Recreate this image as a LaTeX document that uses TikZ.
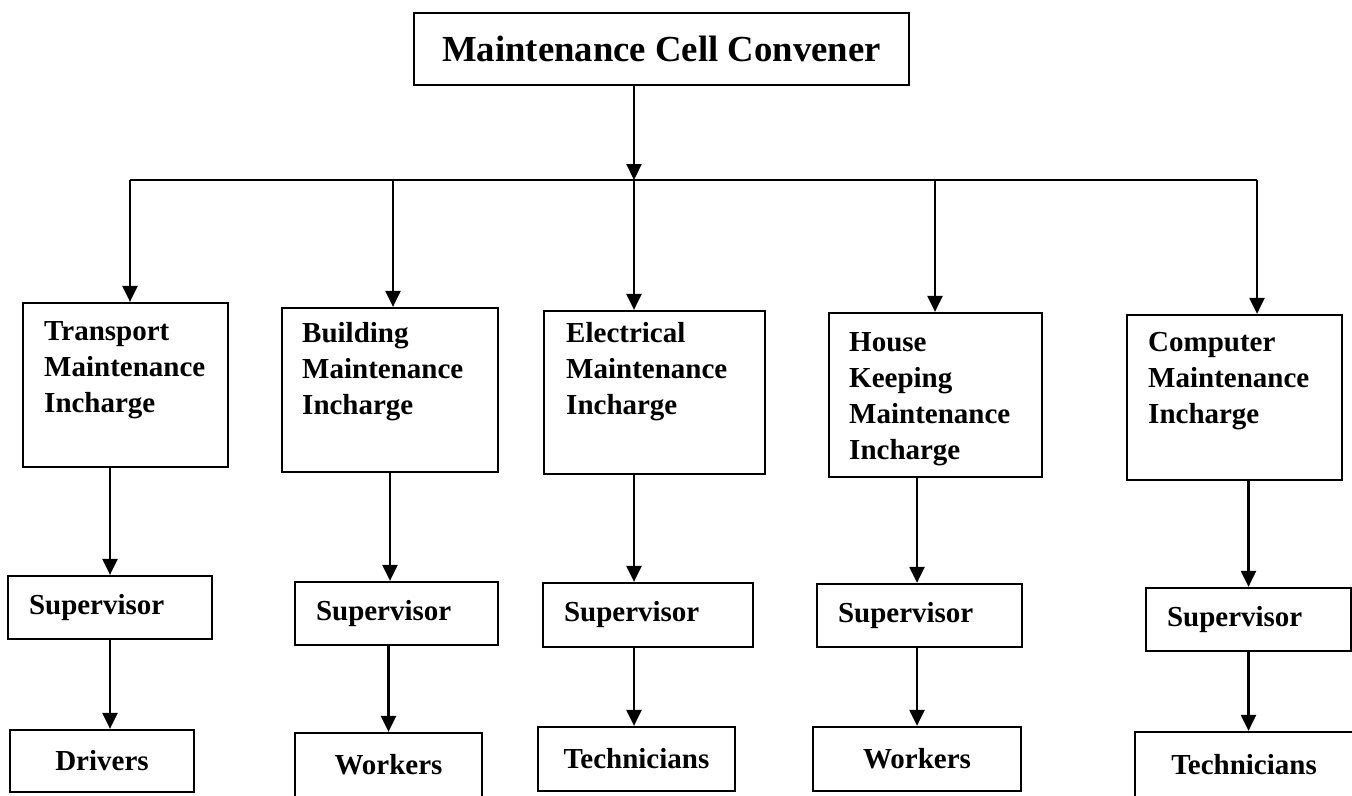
\documentclass[tikz,border=0pt]{standalone}
\usepackage{fontspec}
\setmainfont{Liberation Serif}
\usepackage{tikz}
\usetikzlibrary{arrows.meta, positioning}

\newcommand\cellfont{\fontsize{16.5}{20.5}\selectfont\bfseries}
\newcommand\convenerfont{\fontsize{20.9}{25}\selectfont\bfseries}

\begin{document}
\begin{tikzpicture}[
        x=0.02cm, y=-0.02cm,
        box/.style={draw, line width=1.3pt, inner sep=0pt},
        convenerbox/.style={box, font=\convenerfont, minimum width=9.9cm, minimum height=1.44cm},
        inchargebox/.style={box, minimum height=3.28cm},
        inchargetext/.style={inner sep=0pt, align=left, font=\cellfont},
        supbox/.style={box, font=\cellfont, minimum height=1.26cm, inner xsep=0.42cm, align=left},
        staffbox/.style={box, font=\cellfont, minimum height=1.26cm},
        link/.style={line width=1.3pt},
        flow/.style={-{Triangle[length=0.32cm, width=0.3cm]}, line width=1.3pt}
    ]
    \useasboundingbox (0,0) rectangle (1352,795);

    % Convener
    \node[convenerbox] (convener) at (661.5,49) {Maintenance Cell Convener};

    % Incharges
    \node[inchargebox, minimum width=4.1cm] (transport) at (125.5,385) {};
    \node[inchargebox, minimum width=4.32cm] (building) at (390,390) {};
    \node[inchargebox, minimum width=4.42cm, minimum height=3.26cm] (electrical) at (654.5,392.5) {};
    \node[inchargebox, minimum width=4.26cm] (house) at (935.5,395) {};
    \node[inchargebox, minimum width=4.3cm, minimum height=3.3cm] (computer) at (1234.5,397.5) {};

    \node[inchargetext, below right=0.38cm and 0.44cm of transport.north west] (transportText) {Transport\\Maintenance\\Incharge};
    \node[inchargetext, below right=0.3cm and 0.42cm of building.north west] (buildingText) {Building\\Maintenance\\Incharge};
    \node[inchargetext, below right=0.24cm and 0.46cm of electrical.north west] (electricalText) {Electrical\\Maintenance\\Incharge};
    \node[inchargetext, below right=0.4cm and 0.42cm of house.north west] (houseText) {House\\Keeping\\Maintenance\\Incharge};
    \node[inchargetext, below right=0.36cm and 0.44cm of computer.north west] (computerText) {Computer\\Maintenance\\Incharge};

    % Supervisors
    \node[supbox, text width=3.24cm] (sup1) at (110,607.5) {Supervisor};
    \node[supbox, text width=3.22cm] (sup2) at (396.5,613.5) {Supervisor};
    \node[supbox, text width=3.36cm, minimum height=1.28cm] (sup3) at (648,615) {Supervisor};
    \node[supbox, text width=3.26cm] (sup4) at (919.5,615.5) {Supervisor};
    \node[supbox, text width=3.26cm] (sup5) at (1248.5,619.5) {Supervisor};

    % Staff
    \node[staffbox, minimum width=3.68cm, minimum height=1.24cm] (drivers) at (102,761) {Drivers};
    \node[staffbox, minimum width=3.74cm, minimum height=1.28cm] (workers1) at (388.5,765) {Workers};
    \node[staffbox, minimum width=3.94cm, minimum height=1.28cm] (tech1) at (636.5,759) {Technicians};
    \node[staffbox, minimum width=4.16cm, minimum height=1.28cm] (workers2) at (917,759) {Workers};
    \node[staffbox, minimum width=4.36cm, minimum height=1.3cm] (tech2) at (1244,764.5) {Technicians};

    % Bus
    \coordinate (b1) at (130,180);
    \coordinate (b2) at (393,180);
    \coordinate (b3) at (634,180);
    \coordinate (b4) at (935,180);
    \coordinate (b5) at (1257,180);

    \draw[flow] (convener.south -| b3) -- (b3);
    \draw[link] (b1) -- (b5);
    \draw[flow] (b1) -- (b1 |- transport.north);
    \draw[flow] (b2) -- (b2 |- building.north);
    \draw[flow] (b3) -- (b3 |- electrical.north);
    \draw[flow] (b4) -- (b4 |- house.north);
    \draw[flow] (b5) -- (b5 |- computer.north);

    % Incharge to supervisor
    \draw[flow] (transport.south -| sup1.north) -- (sup1.north);
    \draw[flow] (building.south) -- (building.south |- sup2.north);
    \draw[flow] (electrical.south -| b3) -- (sup3.north -| b3);
    \draw[flow] (house.south -| workers2.north) -- (sup4.north -| workers2.north);
    \draw[flow] (computer.south -| sup5.north) -- (sup5.north);

    % Supervisor to staff
    \draw[flow] (sup1.south) -- (sup1.south |- drivers.north);
    \draw[flow] (sup2.south -| workers1.north) -- (workers1.north);
    \draw[flow] (sup3.south -| b3) -- (tech1.north -| b3);
    \draw[flow] (sup4.south -| workers2.north) -- (workers2.north);
    \draw[flow] (sup5.south) -- (sup5.south |- tech2.north);

\end{tikzpicture}
\end{document}
